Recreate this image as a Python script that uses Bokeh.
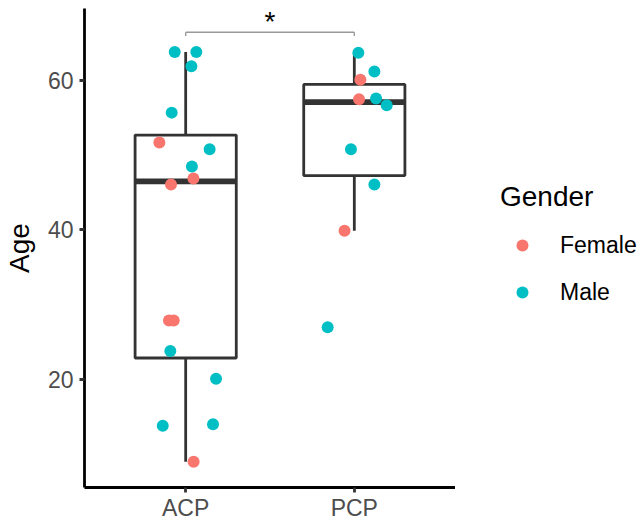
import numpy as np
from bokeh.plotting import figure
from bokeh.layouts import row
from bokeh.models import ColumnDataSource, FixedTicker, Legend, LegendItem, Range1d
from bokeh.core.properties import value
from bokeh.embed import file_html
from bokeh.resources import INLINE

# ---- data ----
categories = ["ACP", "PCP"]
acp_age = [63.8, 63.8, 61.9, 55.7, 51.7, 50.8, 48.5, 46.9, 46.1, 27.9, 27.9, 23.8, 20.1, 13.8, 14.0, 9.0]
acp_gender = ["Male", "Male", "Male", "Male", "Female", "Male", "Male", "Female", "Female",
              "Female", "Female", "Male", "Male", "Male", "Male", "Female"]
acp_jitter = [-0.065, 0.063, 0.034, -0.083, -0.156, 0.142, 0.037, 0.046, -0.087,
              -0.099, -0.071, -0.091, 0.180, -0.136, 0.162, 0.047]
pcp_age = [63.7, 61.2, 60.1, 57.5, 57.6, 56.7, 50.8, 46.1, 39.9, 27.0]
pcp_gender = ["Male", "Male", "Female", "Female", "Male", "Male", "Male", "Male", "Female", "Male"]
pcp_jitter = [0.024, 0.119, 0.036, 0.028, 0.129, 0.192, -0.020, 0.119, -0.058, -0.158]
gender_levels = ["Female", "Male"]
gender_colors = ["#F8766D", "#00BFC4"]
y_ticks = [20, 40, 60]
signif_label = "*"

FONT = "Liberation Sans"

p = figure(width=455, height=529, output_backend="svg", toolbar_location=None,
           x_range=Range1d(0.4, 2.6), y_range=Range1d(5.55, 69.63),
           min_border_left=84, min_border_right=0, min_border_top=8, min_border_bottom=42)
p.outline_line_color = None
p.xgrid.visible = False
p.ygrid.visible = False
p.background_fill_color = "white"
p.border_fill_color = "white"

# ---- boxplot stats computed from the data ----
groups = [acp_age, pcp_age]
xs, q1s, q2s, q3s, lows, highs = [], [], [], [], [], []
for i, ages in enumerate(groups):
    a = np.array(ages)
    q1, q2, q3 = np.quantile(a, [0.25, 0.5, 0.75])
    iqr = q3 - q1
    lo = a[a >= q1 - 1.5 * iqr].min()
    hi = a[a <= q3 + 1.5 * iqr].max()
    xs.append(i + 1); q1s.append(q1); q2s.append(q2); q3s.append(q3); lows.append(lo); highs.append(hi)

bw = 0.3
box_src = ColumnDataSource(dict(x=xs, left=[x - bw for x in xs], right=[x + bw for x in xs],
                                q1=q1s, q2=q2s, q3=q3s, lo=lows, hi=highs))
line_col = "#333333"
p.segment(x0="x", y0="q3", x1="x", y1="hi", source=box_src, line_color=line_col, line_width=2.8)
p.segment(x0="x", y0="q1", x1="x", y1="lo", source=box_src, line_color=line_col, line_width=2.8)
p.quad(left="left", right="right", bottom="q1", top="q3", source=box_src,
       fill_color="white", line_color=line_col, line_width=2.8)
p.segment(x0="left", y0="q2", x1="right", y1="q2", source=box_src, line_color=line_col, line_width=5.6)

# ---- jittered points ----
all_x = [1 + j for j in acp_jitter] + [2 + j for j in pcp_jitter]
all_y = acp_age + pcp_age
all_g = acp_gender + pcp_gender
for g, c in zip(gender_levels, gender_colors):
    idx = [k for k, gg in enumerate(all_g) if gg == g]
    src = ColumnDataSource(dict(x=[all_x[k] for k in idx], y=[all_y[k] for k in idx]))
    p.scatter("x", "y", source=src, size=12, fill_color=c, line_color=c, line_width=0)

# ---- significance bracket ----
br_y = 66.45
br_tick = 65.95
p.segment(x0=[1, 1, 2], y0=[br_y, br_y, br_y], x1=[2, 1, 2], y1=[br_y, br_tick, br_tick],
          line_color="#9a9a9a", line_width=1.4)
p.text(x=[1.5], y=[67.85], text=[signif_label], text_align="center", text_baseline="alphabetic",
       text_font=value(FONT), text_font_size="28px", text_color="black")

# ---- axes ----
for ax in (p.xaxis[0], p.yaxis[0]):
    ax.axis_line_color = "black"
    ax.axis_line_width = 2.8
    ax.major_tick_line_color = line_col
    ax.major_tick_line_width = 2.8
    ax.major_tick_out = 5
    ax.major_tick_in = 0
    ax.minor_tick_line_color = None
    ax.major_label_text_font = FONT
    ax.major_label_text_font_size = "23px"
    ax.major_label_text_color = "#4D4D4D"
    ax.axis_label_text_font = FONT
    ax.axis_label_text_font_style = "normal"
    ax.axis_label_text_font_size = "28px"
    ax.axis_label_text_color = "black"

p.xaxis.ticker = FixedTicker(ticks=[1, 2])
p.xaxis.major_label_overrides = {i + 1: c for i, c in enumerate(categories)}
p.xaxis.major_label_standoff = 2
p.yaxis.ticker = FixedTicker(ticks=y_ticks)
p.yaxis.major_label_standoff = 6
p.yaxis.axis_label = "Age"
p.yaxis.axis_label_standoff = 10

# ---- legend panel (separate figure to the right) ----
pl = figure(width=189, height=529, output_backend="svg", toolbar_location=None,
            x_range=Range1d(0, 1), y_range=Range1d(0, 1), x_axis_type=None, y_axis_type=None,
            min_border=0)
pl.outline_line_color = None
pl.xgrid.visible = False
pl.ygrid.visible = False
pl.border_fill_color = "white"
leg_r = {}
for g, c in zip(gender_levels, gender_colors):
    # legend-only renderer; its single point lies outside the visible range
    leg_r[g] = pl.scatter(x=[-10], y=[-10], size=12, fill_color=c, line_color=c, line_width=0)

legend = Legend(items=[LegendItem(label=g, renderers=[leg_r[g]]) for g in gender_levels],
                location=(45, 180), title="Gender",
                title_text_font=FONT, title_text_font_size="28px", title_text_font_style="normal",
                title_text_color="black", title_standoff=17,
                label_text_font=FONT, label_text_font_size="23px", label_text_color="black",
                glyph_width=44, glyph_height=30, label_height=30,
                label_standoff=16, spacing=17,
                padding=0, margin=0, border_line_color=None, background_fill_alpha=0)
pl.add_layout(legend, "center")

layout = row(p, pl, spacing=0)
open("out.html", "w").write(file_html(layout, INLINE))
